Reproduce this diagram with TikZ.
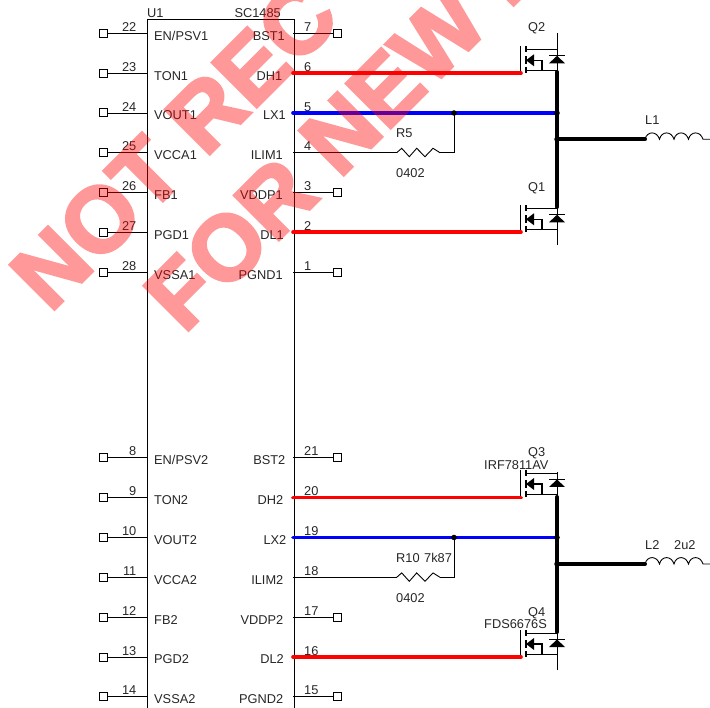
\documentclass[tikz,border=0pt]{standalone}
\usepackage{fontspec}
\setmainfont{Liberation Sans}
\newfontfamily\wmfont[FakeBold=3]{Liberation Sans Bold}
\usetikzlibrary{calc}
\tikzset{
  x=1pt,y=-1pt,
  wire/.style={line width=0.9pt,black},
  hot/.style={line width=3.6pt,red,line cap=round},
  sw/.style={line width=3.6pt,blue,line cap=round},
  power/.style={line width=4pt,black,line cap=round},
  term/.style={draw=black,line width=1pt,fill=white,minimum size=8pt,inner sep=0pt,outer sep=0pt},
  lab/.style={font=\fontsize{12.8}{14}\selectfont,inner sep=0pt,text=black!85},
  joint/.style={circle,fill=black,inner sep=0pt,minimum size=5.5pt},
  mark text/.style={font=\wmfont\fontsize{92}{92}\selectfont,text=red,rotate=45,inner sep=0pt,anchor=base west}
}
\newcommand{\lpin}[4]{% y, number, name, id
  \coordinate (p#4) at (147.5,#1);
  \node[term] (t#4) at (103.5,#1) {};
  \draw[wire] (t#4) -- (p#4);
  \node[lab,anchor=base east] (n#4) at (136.5,#1-1.8) {#2};
  \node[lab,anchor=base west] (l#4) at (154,#1+6.8) {#3};
}
\newcommand{\rpin}[5]{% y, number, name, id, name right end
  \coordinate (p#4) at (293,#1);
  \node[term] (t#4) at (337.5,#1) {};
  \draw[wire] (p#4) -- (t#4);
  \node[lab,anchor=base west] (n#4) at (304,#1-1.8) {#2};
  \node[lab,anchor=base east] (l#4) at (#5,#1+6.8) {#3};
}
\newcommand{\qpin}[5]{%
  \coordinate (p#4) at (293,#1);
  \node[lab,anchor=base west] (n#4) at (304,#1-1.8) {#2};
  \node[lab,anchor=base east] (l#4) at (#5,#1+6.8) {#3};
}
\newcommand{\mosfet}[4]{%
  \begin{scope}[shift={(0,#1-73)}]
    \draw[line width=1pt] (520,46) -- (520,73);
    \draw[line width=1.1pt] (526,46) -- (526,52) (526,56) -- (526,64) (526,67) -- (526,73);
    \draw[wire] (526,49) -- (557,49);
    \draw[wire] (526,70.5) -- (557,70.5);
    \fill (526,60) -- (534,54) -- (534,66) -- cycle;
    \draw[line width=1.1pt] (533,60) -- (542,60) -- (542,70.5);
    \fill (557,55.5) -- (565,63) -- (549,63) -- cycle;
    \draw[line width=1.2pt] (549,55.5) -- (565,55.5);
  \end{scope}
  \coordinate (d#4) at (557,#2);
  \coordinate (s#4) at (557,#3);
  \draw[wire] (d#4) -- (s#4);
}
\newcommand{\zigzag}[1]{%
  (396.7,#1) -- (401.7,#1-4.4) -- (409.3,#1+4) -- (416.7,#1-4.4) -- (425,#1+4) -- (433,#1-4.4) -- (440,#1)
}
\newcommand{\coil}[1]{%
  (645,#1) .. controls (647,#1-8.5) and (657,#1-8.5) .. (659.5,#1)
  .. controls (661.5,#1-8.5) and (671.5,#1-8.5) .. (674,#1)
  .. controls (676,#1-8.5) and (686,#1-8.5) .. (688.5,#1)
  .. controls (690.5,#1-8.5) and (700.5,#1-8.5) .. (703,#1)
}
\begin{document}
\begin{tikzpicture}
\useasboundingbox (0,0) rectangle (710,708);
\draw[wire,line width=1pt] (147.5,760) -- (147.5,20) -- (294.5,20) -- (294.5,760);
\node[lab,anchor=base west] (u1) at (147,18) {U1};
\node[lab,anchor=base east] (part) at (281,18) {SC1485};
\lpin{33.3}{22}{EN/PSV1}{a}
\lpin{73.3}{23}{TON1}{b}
\lpin{113}{24}{VOUT1}{c}
\lpin{152.7}{25}{VCCA1}{d}
\lpin{192.7}{26}{FB1}{e}
\lpin{232.3}{27}{PGD1}{f}
\lpin{272.3}{28}{VSSA1}{g}
\lpin{457.7}{8}{EN/PSV2}{h}
\lpin{497.7}{9}{TON2}{i}
\lpin{537.5}{10}{VOUT2}{j}
\lpin{577.3}{11}{VCCA2}{k}
\lpin{617.3}{12}{FB2}{l}
\lpin{657}{13}{PGD2}{m}
\lpin{696.7}{14}{VSSA2}{n}
\rpin{33.3}{7}{BST1}{A}{285}
\qpin{73.3}{6}{DH1}{B}{282.5}
\qpin{113}{5}{LX1}{C}{286}
\qpin{152.7}{4}{ILIM1}{D}{283}
\rpin{192.7}{3}{VDDP1}{E}{283}
\qpin{232.3}{2}{DL1}{F}{284}
\rpin{272.3}{1}{PGND1}{G}{283}
\rpin{457.7}{21}{BST2}{H}{285.5}
\qpin{497.7}{20}{DH2}{I}{283.5}
\qpin{537.5}{19}{LX2}{J}{286.5}
\qpin{577.3}{18}{ILIM2}{K}{283.5}
\rpin{617.3}{17}{VDDP2}{L}{283.5}
\qpin{657}{16}{DL2}{M}{284}
\rpin{696.7}{15}{PGND2}{N}{283.5}
\mosfet{73.3}{33}{72}{U}
\mosfet{232.3}{207}{245}{V}
\mosfet{497}{472}{497}{W}
\mosfet{657}{632}{670}{X}
\node[lab,anchor=base west] (q2) at (528,32) {Q2};
\node[lab,anchor=base west] (q1) at (528,192) {Q1};
\node[lab,anchor=base west] (q3) at (528,456.7) {Q3};
\node[lab,anchor=base west] (q3v) at (484,470) {IRF7811AV};
\node[lab,anchor=base west] (q4) at (528,616) {Q4};
\node[lab,anchor=base west] (q4v) at (484,628) {FDS6676S};
\coordinate (gU) at (521,73.3);
\coordinate (gV) at (521,232.3);
\coordinate (gW) at (521,497.7);
\coordinate (gX) at (521,657);
\coordinate (swU) at (557,113);
\coordinate (swW) at (557,537.5);
\coordinate (outU) at (557,139.3);
\coordinate (outW) at (557,564);
\coordinate (lU) at (645,139.3);
\coordinate (lW) at (645,564);
\coordinate (rU) at (454,113);
\coordinate (rW) at (454,537.5);
\coordinate (rU1) at (396.7,152.7);
\coordinate (rU2) at (440,152.7);
\coordinate (rW1) at (396.7,577.3);
\coordinate (rW2) at (440,577.3);
\draw[hot] (pB) -- (gU);
\draw[hot] (pF) -- (gV);
\draw[hot] (pI) -- (gW);
\draw[hot] (pM) -- (gX);
\draw[sw] (pC) -- (swU);
\draw[sw] (pJ) -- (swW);
\draw[power] (sU) -- (dV);
\draw[power] (sW) -- (dX);
\draw[power] (outU) -- (lU);
\draw[power] (outW) -- (lW);
\draw[wire] (pD) -- (rU1);
\draw[wire] \zigzag{152.7};
\draw[wire] (rU2) -| (rU);
\draw[wire] (pK) -- (rW1);
\draw[wire] \zigzag{577.3};
\draw[wire] (rW2) -| (rW);
\node[joint] at (rU) {};
\node[joint] at (rW) {};
\node[joint] at (swU) {};
\node[joint] at (swW) {};
\node[joint] at (outU) {};
\node[joint] at (outW) {};
\node[lab,anchor=base west] (r5) at (396,138) {R5};
\node[lab,anchor=base west] (r5v) at (396,177.7) {0402};
\node[lab,anchor=base west] (r10) at (396,562.6) {R10};
\node[lab,anchor=base west] (r10x) at (424,562.6) {7k87};
\node[lab,anchor=base west] (r10v) at (396,602) {0402};
\coordinate (endU) at (710,139.3);
\coordinate (endW) at (710,564);
\draw[wire] \coil{139.3} -- (endU);
\draw[wire] \coil{564} -- (endW);
\node[lab,anchor=base west] (l1) at (645,125) {L1};
\node[lab,anchor=base west] (l2) at (645,550) {L2};
\node[lab,anchor=base west] (l2v) at (674,550) {2u2};
\begin{scope}[transparency group,opacity=0.4]
\node[mark text] (wm1) at (50,314) {NOT REC};
\node[mark text] (wm2) at (184,335) {FOR NEW D};
\end{scope}
\end{tikzpicture}
\end{document}
